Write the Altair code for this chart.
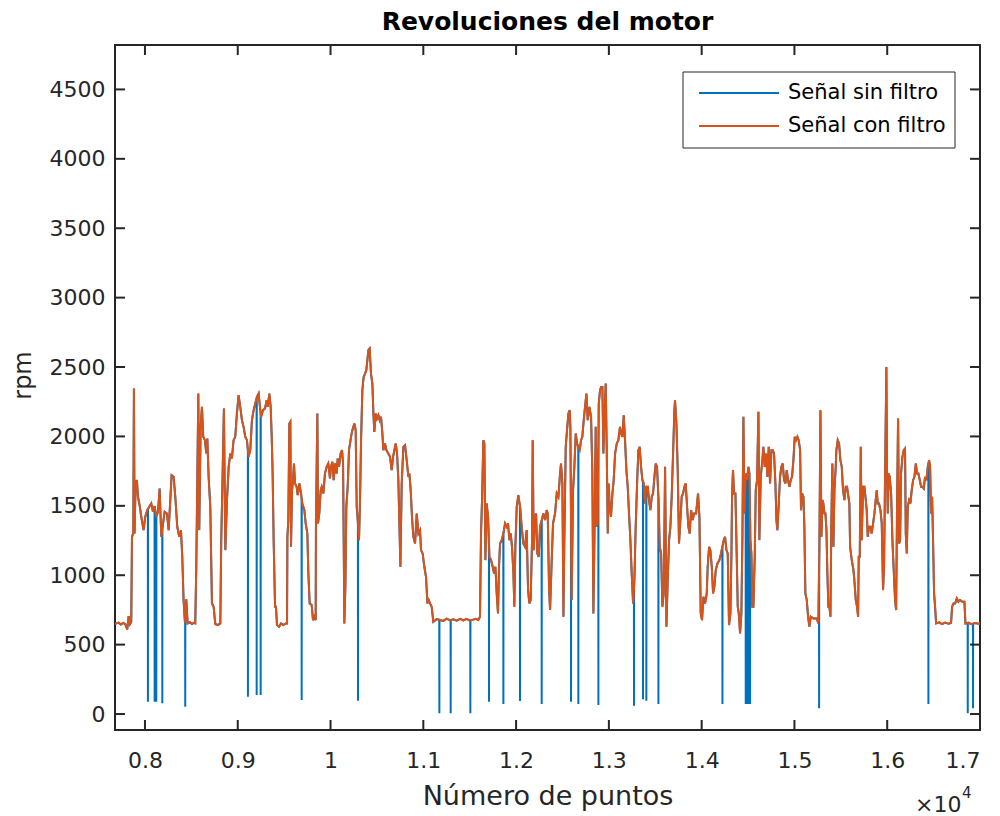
import altair as alt
import numpy as np
import pandas as pd

FONT = "DejaVu Sans"
INK = "#262626"

SERIES = ["Señal sin filtro", "Señal con filtro"]
COLORS = ["#0072BD", "#D95319"]

# Filtered engine speed (sample index, rpm), split by stretch of the record
FILT_A = [
    (7677, 650), (7700, 655), (7716, 658), (7740, 645), (7765, 656), (7788, 648),
    (7809, 610), (7824, 706), (7838, 648), (7852, 663), (7860, 1277), (7874, 1301),
    (7881, 2345), (7888, 1301), (7899, 1661), (7913, 1685), (7924, 1565), (7942, 1505),
    (7960, 1421), (7985, 1325), (8003, 1421), (8025, 1469), (8046, 1493), (8068, 1517),
    (8086, 1457), (8104, 1498), (8122, 1421), (8140, 1457), (8158, 1625), (8176, 1277),
    (8190, 1349), (8212, 1457), (8237, 1445), (8255, 1325), (8273, 1541), (8287, 1721),
    (8309, 1709), (8327, 1565), (8348, 1349), (8370, 1277), (8388, 1325), (8402, 1133),
    (8416, 821), (8431, 658), (8445, 826), (8460, 653), (8483, 661), (8506, 648),
    (8525, 657), (8542, 653), (8553, 1061), (8564, 1685), (8575, 2309), (8585, 1325),
    (8600, 2069), (8614, 2213), (8628, 1997), (8646, 1973), (8661, 1877), (8672, 1985),
    (8686, 1709), (8704, 1493), (8722, 797), (8740, 773), (8758, 648), (8787, 641),
    (8812, 653), (8822, 1253), (8837, 1733), (8851, 2201), (8866, 1181), (8884, 1541),
    (8902, 1781), (8920, 1877), (8937, 1841), (8955, 1973), (8973, 1997), (8991, 2165),
    (9009, 2297), (9027, 2213), (9045, 2117), (9063, 2069), (9081, 1997), (9099, 1973),
    (9117, 1853), (9135, 1901), (9153, 2117), (9171, 2189), (9189, 2237), (9207, 2285),
    (9225, 2309),
]
FILT_B = [
    (9251, 2141), (9272, 2189), (9294, 2201), (9312, 2261), (9323, 2213), (9340, 2309),
    (9355, 2213), (9366, 1997), (9376, 1733), (9387, 1253), (9402, 773), (9412, 773),
    (9423, 641), (9445, 629), (9466, 653), (9491, 641), (9517, 653), (9531, 653),
    (9535, 1277), (9545, 1397), (9556, 2093), (9567, 2105), (9574, 1205), (9585, 1613),
    (9596, 1685), (9606, 1805), (9617, 1661), (9635, 1637), (9646, 1577), (9664, 1661),
    (9682, 1589), (9696, 1517), (9718, 1469), (9732, 1373), (9750, 1301), (9761, 1013),
    (9775, 797), (9797, 785), (9811, 677), (9826, 701), (9840, 677), (9843, 1397),
    (9858, 2165), (9865, 1373), (9879, 1445), (9894, 1613), (9905, 1637), (9923, 1589),
    (9940, 1733), (9958, 1781), (9976, 1805), (9994, 1697), (10005, 1781), (10020, 1817),
    (10034, 1685), (10048, 1805), (10066, 1733), (10077, 1841), (10091, 1781), (10109, 1877),
    (10124, 1901), (10135, 1805), (10142, 1253), (10149, 653), (10160, 917), (10170, 1493),
    (10185, 1637), (10199, 1901), (10221, 1997), (10235, 2045), (10257, 2093), (10271, 2045),
    (10282, 1493), (10293, 1397), (10307, 1253), (10318, 1541), (10329, 1973), (10343, 2333),
    (10357, 2429), (10372, 2453), (10386, 2477), (10397, 2549), (10408, 2621), (10422, 2633),
    (10436, 2453), (10451, 2381), (10462, 2165), (10472, 2033), (10487, 2165), (10501, 2129),
    (10516, 2153), (10530, 2117), (10544, 2141), (10559, 2021), (10569, 1901), (10587, 1949),
    (10602, 1901), (10623, 1877), (10641, 1853), (10659, 1757), (10674, 1853), (10688, 1901),
    (10703, 1949), (10717, 1877), (10731, 1685), (10742, 1373), (10753, 1061),
]
FILT_C = [
    (10767, 1661), (10785, 1925), (10803, 1937), (10821, 1829), (10839, 1709), (10850, 1733),
    (10864, 1613), (10878, 1421), (10893, 1277), (10911, 1229), (10929, 1445), (10947, 1301),
    (10965, 1325), (10975, 1181), (10993, 1157), (11011, 1061), (11029, 989), (11044, 797),
    (11058, 821), (11072, 797), (11090, 773), (11108, 665), (11144, 684), (11180, 677),
    (11216, 671), (11252, 687), (11288, 674), (11324, 682), (11360, 672), (11396, 686),
    (11432, 674), (11468, 685), (11504, 672), (11539, 680), (11566, 686), (11593, 678),
    (11611, 701), (11622, 1301), (11633, 1541), (11647, 1973), (11658, 1949), (11669, 1109),
    (11683, 1517), (11698, 1421), (11712, 1133), (11730, 1109), (11748, 1061), (11762, 1013),
    (11777, 1061), (11791, 869), (11805, 725), (11816, 1061), (11827, 1229), (11845, 1253),
    (11863, 1301), (11881, 1373), (11899, 1349), (11913, 1373), (11928, 1253), (11942, 1301),
    (11956, 1205), (11971, 1013), (11981, 773), (11992, 1205), (12007, 1493), (12024, 1577),
    (12043, 1493), (12060, 1349), (12078, 1229), (12096, 1205), (12114, 1325), (12129, 893),
    (12143, 797), (12157, 821), (12172, 1253), (12179, 1973), (12190, 1181), (12204, 1421),
    (12215, 1445), (12229, 1157), (12244, 1133), (12258, 1349), (12276, 1397), (12294, 1445),
    (12312, 1397), (12330, 1469),
]
FILT_D = [
    (12341, 1445), (12355, 917), (12366, 749), (12384, 1109), (12398, 1373), (12420, 1445),
    (12438, 1589), (12456, 1565), (12474, 1733), (12484, 1805), (12499, 1661), (12510, 701),
    (12520, 1253), (12535, 1925), (12549, 2045), (12564, 2165), (12578, 2189), (12585, 2069),
    (12599, 821), (12614, 1613), (12628, 1781), (12643, 2021), (12657, 1949), (12671, 1925),
    (12686, 1901), (12700, 1973), (12714, 1997), (12729, 2117), (12743, 2213), (12758, 2309),
    (12772, 2117), (12790, 2213), (12808, 2141), (12822, 1733), (12833, 725), (12844, 1253),
    (12858, 2069), (12869, 1349), (12880, 1373), (12891, 2237), (12905, 2333), (12916, 2357),
    (12930, 2357), (12941, 1877), (12952, 2141), (12966, 2381), (12977, 1901), (12988, 1301),
    (12998, 1661), (13009, 1493), (13023, 1421), (13038, 1589), (13052, 1685), (13067, 1877),
    (13085, 1949), (13102, 1973), (13120, 2069), (13131, 2021), (13146, 1997), (13160, 2153),
    (13174, 1973), (13189, 1757), (13203, 1637), (13217, 1445), (13232, 1253), (13246, 1013),
    (13261, 797), (13275, 965), (13289, 1349), (13304, 1661), (13318, 1901), (13332, 1925),
    (13347, 1781), (13361, 1685), (13376, 1661), (13390, 1517), (13404, 1637), (13419, 1637),
    (13433, 1541), (13447, 1469), (13462, 1565), (13476, 1589), (13491, 1709), (13505, 1805),
    (13519, 1781), (13534, 1565), (13548, 1205), (13563, 1157), (13577, 773), (13591, 869),
    (13606, 1781), (13620, 629), (13634, 965), (13649, 1253), (13663, 1349), (13677, 1565),
    (13692, 1877), (13706, 2189), (13713, 2261), (13728, 2093), (13742, 1757), (13756, 1229),
    (13771, 1397), (13785, 1565), (13800, 1589), (13814, 1637), (13828, 1661), (13843, 1493),
    (13857, 1349), (13871, 1301), (13886, 1469), (13904, 1397),
]
FILT_E = [
    (13918, 1445), (13940, 1445), (13961, 1589), (13976, 1421), (13990, 725), (14004, 677),
    (14019, 845), (14037, 797), (14055, 869), (14065, 1061), (14080, 1205), (14094, 1181),
    (14109, 1061), (14123, 869), (14137, 917), (14152, 1037), (14170, 1085), (14191, 1109),
    (14209, 1157), (14223, 1205), (14238, 1253), (14252, 1277), (14267, 1181), (14281, 1157),
    (14295, 641), (14310, 725), (14321, 1157), (14328, 1589), (14338, 1757), (14349, 1589),
    (14364, 1589), (14378, 1133), (14389, 773), (14400, 725), (14414, 581), (14428, 725),
    (14439, 1253), (14450, 2141), (14461, 1445), (14475, 1733), (14489, 1685), (14504, 1781),
    (14515, 1733), (14525, 1253), (14536, 1157), (14547, 773), (14558, 773), (14572, 1133),
    (14583, 1613), (14597, 1685), (14612, 2177), (14622, 1253), (14637, 1709), (14651, 1805),
    (14665, 1925), (14680, 1781), (14694, 1877), (14709, 1709), (14723, 1925), (14737, 1661),
    (14752, 1901), (14766, 1901), (14780, 1877), (14795, 1661), (14806, 1397), (14816, 1325),
    (14831, 1517), (14845, 1709), (14859, 1781), (14874, 1805), (14888, 1685), (14903, 1661),
    (14917, 1757), (14931, 1685), (14946, 1637), (14960, 1685), (14974, 1709), (14989, 1829),
    (15003, 1997), (15018, 1973), (15032, 1997), (15046, 1973), (15061, 1901), (15071, 1469),
    (15082, 1589), (15097, 1565), (15107, 1349), (15118, 869), (15133, 821), (15147, 701),
    (15161, 629), (15176, 701), (15204, 689), (15240, 689), (15258, 653), (15269, 1205),
    (15280, 2189), (15291, 1277), (15301, 1541), (15312, 1517), (15323, 1445), (15334, 1445),
    (15345, 1325), (15355, 1013), (15366, 773), (15377, 773), (15388, 701), (15398, 1397),
    (15409, 1805), (15420, 1205), (15431, 1613), (15445, 1781),
]
FILT_F = [
    (15452, 1901), (15467, 1973), (15481, 1949), (15495, 1829), (15510, 1781), (15524, 1613),
    (15539, 1541), (15553, 1637), (15567, 1637), (15582, 1565), (15592, 1517), (15600, 1205),
    (15618, 1109), (15636, 1037), (15646, 965), (15661, 821), (15675, 773), (15686, 701),
    (15693, 1133), (15704, 1133), (15715, 1925), (15725, 1253), (15740, 1637), (15754, 1637),
    (15769, 1541), (15779, 1469), (15790, 1277), (15804, 1349), (15819, 1349), (15833, 1301),
    (15848, 1373), (15862, 1445), (15876, 1541), (15887, 1613), (15898, 1517), (15912, 1517),
    (15927, 1469), (15941, 1373), (15955, 893), (15966, 1061), (15977, 1733), (15991, 2501),
    (15998, 1733), (16006, 1445), (16016, 1733), (16027, 1709), (16042, 1589), (16056, 1253),
    (16070, 1037), (16085, 821), (16096, 749), (16106, 1493), (16117, 2129), (16128, 1229),
    (16139, 1253), (16149, 1733), (16164, 1853), (16178, 1901), (16192, 1913), (16200, 1301),
    (16211, 1157), (16221, 1493), (16236, 1541), (16250, 1517), (16264, 1613), (16279, 1685),
    (16293, 1709), (16308, 1805), (16322, 1733), (16336, 1733), (16351, 1685), (16365, 1637),
    (16379, 1637), (16394, 1625), (16408, 1709), (16422, 1685), (16437, 1781), (16451, 1829),
    (16462, 1781), (16473, 1445), (16484, 1565), (16494, 1253), (16505, 869), (16516, 773),
    (16527, 653), (16560, 661), (16588, 648), (16625, 659), (16660, 650), (16688, 656),
    (16699, 773), (16714, 797), (16732, 797), (16750, 833), (16767, 809), (16785, 821),
    (16811, 809), (16832, 809), (16843, 653), (16875, 658), (16911, 648), (16947, 656),
    (16983, 650), (17019, 653),
]

# Single-sample dropouts of the raw signal: sample index and rpm reached
DROP_X = [8032, 8104, 8122, 8187, 8434, 9110, 9204, 9247, 9689, 10296, 11173,
          11295, 11507, 11708, 11863, 12042, 12276, 12592, 12671, 12887, 13271,
          13368, 13404, 13534, 14224, 14475, 14489, 14507, 14522, 15266, 16444,
          16868, 16925]
DROP_MIN = [89, 89, 89, 77, 53, 125, 137, 137, 101, 96, 5, 5, 5, 89, 72, 94, 72,
            89, 72, 65, 60, 106, 96, 72, 72, 72, 72, 72, 72, 41, 72, 5, 41]

X_TICKS = list(range(8000, 17001, 1000))
Y_TICKS = list(range(0, 4501, 500))
X_DOMAIN = [7677, 17000]
Y_DOMAIN = [-115, 4820]

W, H = 865, 685

# ---- build the two series -------------------------------------------------
filtered = FILT_A + FILT_B + FILT_C + FILT_D + FILT_E + FILT_F
fx = np.array([p[0] for p in filtered], dtype=float)
fy = np.array([p[1] for p in filtered], dtype=float)

keep = np.ones(len(fx), dtype=bool)
for sx in DROP_X:
    keep &= np.abs(fx - sx) > 1
rx = list(fx[keep])
ry = list(fy[keep])
tops = np.interp(DROP_X, fx, fy)
for sx, lo, top in zip(DROP_X, DROP_MIN, tops):
    rx += [sx - 1, sx, sx + 1]
    ry += [top, lo, top]
idx = np.argsort(rx, kind="stable")
raw_df = pd.DataFrame({"x": np.array(rx)[idx], "rpm": np.array(ry)[idx]})
raw_df["i"] = np.arange(len(raw_df))
filt_df = pd.DataFrame({"x": fx, "rpm": fy, "i": np.arange(len(fx))})

xscale = alt.Scale(domain=X_DOMAIN, nice=False, zero=False)
yscale = alt.Scale(domain=Y_DOMAIN, nice=False, zero=False)

# one axis definition shared by every layer so the merged axis stays intact
x_axis = alt.Axis(
    values=X_TICKS, labelExpr="datum.value / 10000", title="Número de puntos",
    domain=False, ticks=False, tickSize=0, grid=False, labelFont=FONT,
    labelFontSize=22, labelColor=INK, labelPadding=20, titleFont=FONT,
    titleFontSize=27, titleFontWeight="normal", titleColor=INK, titlePadding=12,
)
y_axis = alt.Axis(
    values=Y_TICKS, format="d", title="rpm", domain=False, ticks=False,
    tickSize=0, grid=False, labelFont=FONT, labelFontSize=22, labelColor=INK,
    labelPadding=10, titleFont=FONT, titleFontSize=24, titleFontWeight="normal",
    titleColor=INK, titlePadding=14, titleY=330,
)

raw_line = alt.Chart(raw_df).mark_line(
    color=COLORS[0], strokeWidth=2, clip=True
).encode(
    x=alt.X("x:Q", scale=xscale, axis=x_axis),
    y=alt.Y("rpm:Q", scale=yscale, axis=y_axis),
    order=alt.Order("i:Q"),
)

filt_line = alt.Chart(filt_df).mark_line(
    color=COLORS[1], strokeWidth=2, clip=True
).encode(
    x=alt.X("x:Q", scale=xscale, axis=x_axis),
    y=alt.Y("rpm:Q", scale=yscale, axis=y_axis),
    order=alt.Order("i:Q"),
)

# inward tick marks on all four sides of the box
xt = pd.DataFrame({"x": X_TICKS})
yt = pd.DataFrame({"rpm": Y_TICKS})
tick_style = dict(color=INK, strokeWidth=2)
ticks_bottom = alt.Chart(xt).mark_rule(**tick_style).encode(
    x=alt.X("x:Q", scale=xscale, axis=x_axis), y=alt.value(H), y2=alt.value(H - 10))
ticks_top = alt.Chart(xt).mark_rule(**tick_style).encode(
    x=alt.X("x:Q", scale=xscale, axis=x_axis), y=alt.value(0), y2=alt.value(10))
ticks_left = alt.Chart(yt).mark_rule(**tick_style).encode(
    y=alt.Y("rpm:Q", scale=yscale, axis=y_axis), x=alt.value(0), x2=alt.value(10))
ticks_right = alt.Chart(yt).mark_rule(**tick_style).encode(
    y=alt.Y("rpm:Q", scale=yscale, axis=y_axis), x=alt.value(W), x2=alt.value(W - 10))

# legend box
one = pd.DataFrame({"k": [0]})
legend_box = alt.Chart(one).mark_rect(
    fill="white", stroke=INK, strokeWidth=1
).encode(x=alt.value(568), x2=alt.value(840), y=alt.value(27), y2=alt.value(103))

legend_layers = []
for k, name in enumerate(SERIES):
    d = pd.DataFrame({"label": [name]})
    yk = 48 + 33 * k
    legend_layers.append(
        alt.Chart(d).mark_rule(color=COLORS[k], strokeWidth=2).encode(
            x=alt.value(584), x2=alt.value(664), y=alt.value(yk))
    )
    legend_layers.append(
        alt.Chart(d).mark_text(
            align="left", baseline="middle", font=FONT, fontSize=21, color="black"
        ).encode(x=alt.value(673), y=alt.value(yk), text="label:N")
    )

# axis multiplier
exp_df = pd.DataFrame({"base": ["×10"], "power": ["4"]})
exp_base = alt.Chart(exp_df).mark_text(
    align="left", baseline="middle", font=FONT, fontSize=22, color=INK
).encode(x=alt.value(800), y=alt.value(760), text="base:N")
exp_power = alt.Chart(exp_df).mark_text(
    align="left", baseline="middle", font=FONT, fontSize=15, color=INK
).encode(x=alt.value(847), y=alt.value(748), text="power:N")

chart = alt.layer(
    raw_line, filt_line, ticks_bottom, ticks_top, ticks_left, ticks_right,
    legend_box, *legend_layers, exp_base, exp_power,
).properties(
    width=W, height=H,
    title=alt.TitleParams(
        "Revoluciones del motor", font=FONT, fontSize=25, fontWeight="bold",
        color="black", offset=9, anchor="middle",
    ),
    autosize=alt.AutoSizeParams(type="none"),
    padding={"left": 115, "top": 45, "right": 20, "bottom": 86},
    background="white",
).configure_view(stroke=INK, strokeWidth=2)

chart.save("out.html", embed_options={"renderer": "svg", "actions": False})
